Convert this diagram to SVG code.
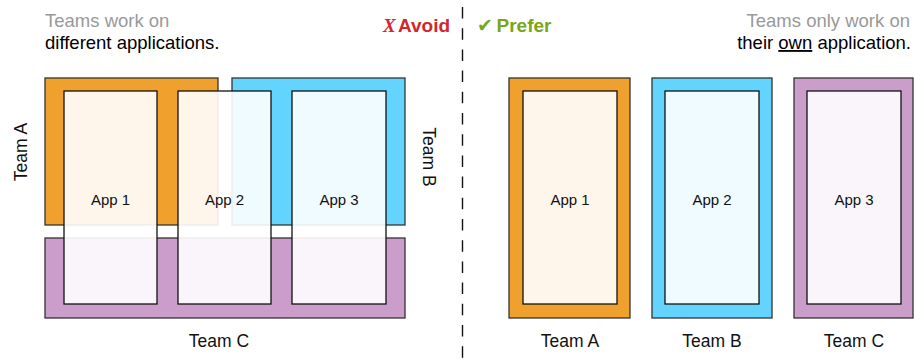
<svg xmlns="http://www.w3.org/2000/svg" width="914" height="359" viewBox="0 0 914 359">
<style>
.team{stroke:#333;stroke-width:1.3}
.ta{fill:#F0A02C}
.tb{fill:#62D4FE}
.tc{fill:#CB9DCB}
.app{fill:#fff;fill-opacity:0.9;stroke:#111;stroke-width:1.3}
.lbl{font-family:"Liberation Sans",Arial,Helvetica,sans-serif;fill:#111}
.app-t{font-size:15px;text-anchor:middle}
.team-t{font-size:17.5px;text-anchor:middle}
.cap{font-family:"Liberation Sans",Arial,Helvetica,sans-serif;font-size:18.5px}
.gray{fill:#999}
.blk{fill:#000}
</style>
<rect width="914" height="359" fill="#fff"/>

<!-- Left: Avoid -->
<g id="left-teams">
  <rect id="left-team-a" class="team ta" x="45" y="78" width="173" height="147"/>
  <rect id="left-team-b" class="team tb" x="232" y="78" width="173" height="147"/>
  <rect id="left-team-c" class="team tc" x="45" y="238" width="360" height="80"/>
</g>
<g id="left-app-1">
  <rect class="app" x="64" y="91" width="93" height="213"/>
  <text class="lbl app-t" x="110.5" y="205">App 1</text>
</g>
<g id="left-app-2">
  <rect class="app" x="178" y="91" width="93" height="213"/>
  <text class="lbl app-t" x="224.5" y="205">App 2</text>
</g>
<g id="left-app-3">
  <rect class="app" x="292" y="91" width="94" height="213"/>
  <text class="lbl app-t" x="339" y="205">App 3</text>
</g>
<g id="left-team-labels">
  <text class="lbl team-t" transform="translate(26.5,152) rotate(-90)" x="0" y="0">Team A</text>
  <text class="lbl team-t" transform="translate(423,157) rotate(90)" x="0" y="0">Team B</text>
  <text class="lbl team-t" x="219" y="347">Team C</text>
</g>
<g id="left-caption">
  <text class="cap gray" x="45" y="27">Teams work on</text>
  <text class="cap blk" x="45" y="49">different applications.</text>
</g>

<!-- Divider -->
<g id="connectors">
  <line x1="462.5" y1="7" x2="462.5" y2="359" stroke="#111" stroke-width="1.4" stroke-dasharray="11.5 9.7"/>
</g>

<g id="headings">
  <text x="383" y="32" font-size="19" fill="#D0282E"><tspan font-family="'Liberation Serif','Times New Roman',serif" font-style="italic" font-weight="bold">X</tspan><tspan x="398" font-family="'Liberation Sans',Arial,sans-serif" font-weight="bold">Avoid</tspan></text>
  <text x="477" y="32" font-size="19" fill="#7AA619"><tspan font-family="'DejaVu Sans',sans-serif" font-size="19">✔</tspan><tspan x="496.5" font-family="'Liberation Sans',Arial,sans-serif" font-weight="bold">Prefer</tspan></text>
</g>

<!-- Right: Prefer -->
<g id="right-team-a">
  <rect class="team ta" x="509" y="78" width="121" height="240"/>
  <rect class="app" x="523" y="91" width="94" height="213"/>
  <text class="lbl app-t" x="570" y="205">App 1</text>
  <text class="lbl team-t" x="570" y="347">Team A</text>
</g>
<g id="right-team-b">
  <rect class="team tb" x="652" y="78" width="120" height="240"/>
  <rect class="app" x="665" y="91" width="94" height="213"/>
  <text class="lbl app-t" x="712" y="205">App 2</text>
  <text class="lbl team-t" x="712" y="347">Team B</text>
</g>
<g id="right-team-c">
  <rect class="team tc" x="794" y="78" width="119" height="240"/>
  <rect class="app" x="807" y="91" width="94" height="213"/>
  <text class="lbl app-t" x="854" y="205">App 3</text>
  <text class="lbl team-t" x="854" y="347">Team C</text>
</g>
<g id="right-caption">
  <text class="cap gray" x="910" y="27" text-anchor="end">Teams only work on</text>
  <text class="cap blk" x="911" y="49" text-anchor="end">their <tspan text-decoration="underline">own</tspan> application.</text>
</g>
</svg>
